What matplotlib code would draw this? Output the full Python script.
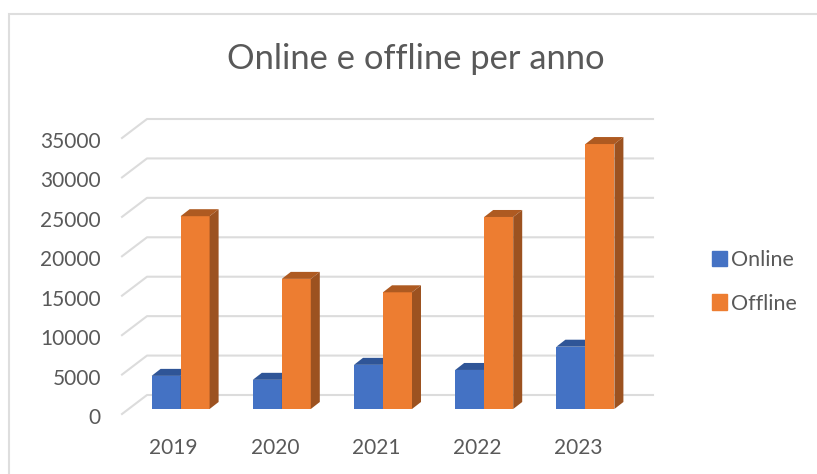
import matplotlib
matplotlib.use("Agg")
import matplotlib.pyplot as plt
from matplotlib.patches import Polygon, Patch, Rectangle
from matplotlib.transforms import ScaledTranslation

plt.rcParams['font.family'] = ['Lato', 'DejaVu Sans']

years = ['2019', '2020', '2021', '2022', '2023']
online = [4200, 3700, 5600, 4950, 7900]
offline = [24450, 16500, 14800, 24350, 33600]
y_ticks = [0, 5000, 10000, 15000, 20000, 25000, 30000, 35000]

W, H = 817, 474
GREY = '#595959'
GRID = '#dcdcdc'

fig = plt.figure(figsize=(W / 100, H / 100), dpi=100)

# outer chart frame
fig.add_artist(Rectangle((9 / W, -0.1), 1.1, 1.1 - 14.5 / H, transform=fig.transFigure,
                         fill=False, ec='#dedede', lw=1.5))

# axes is the front plane of the fake 3d box
left, right, top, bottom = 122, 628, 138, 414
ax = fig.add_axes([left / W, 1 - bottom / H, (right - left) / W, (bottom - top) / H])
ax.set_xlim(-0.5, 4.5)
ax.set_ylim(0, 35000)
ax.patch.set_visible(False)
for s in ax.spines.values():
    s.set_visible(False)

# size of one pixel in data units
px = 5 / (right - left)
py = 35000 / (bottom - top)

# back wall grid and the slanted part on the floor/side
for v in y_ticks:
    ax.plot([-0.5, -0.5 + 25 * px, 4.5 + 25 * px],
            [v, v + 19 * py, v + 19 * py],
            color=GRID, lw=1.5, clip_on=False, zorder=1)

w = 29 * px
sx, sy = 8 * px, 5 * py     # bars stand a little behind the front plane
dx, dy = 9 * px, 7 * py     # bar depth


def draw_bars(pos, vals, color, top_c, side_c, z):
    ax.bar(pos, vals, width=w, bottom=sy, color=color, clip_on=False, zorder=z)
    for x, v in zip(pos, vals):
        l, r, b, t = x - w / 2, x + w / 2, sy, sy + v
        ax.add_patch(Polygon([(l, t), (r, t), (r + dx, t + dy), (l + dx, t + dy)],
                             color=top_c, lw=0, clip_on=False, zorder=z))
        ax.add_patch(Polygon([(r, b), (r + dx, b + dy), (r + dx, t + dy), (r, t)],
                             color=side_c, lw=0, clip_on=False, zorder=z))


x = list(range(len(years)))
draw_bars([i + sx - w / 2 for i in x], online, '#4472c4', '#2f5597', '#2a4d8a', 3)
draw_bars([i + sx + w / 2 for i in x], offline, '#ed7d31', '#ae5a21', '#9c5220', 4)

ax.set_xticks(x, years)
ax.set_yticks(y_ticks, [str(v) for v in y_ticks])
ax.tick_params(length=0, labelsize=15, labelcolor=GREY)
ax.tick_params(axis='x', pad=17.5)
ax.tick_params(axis='y', pad=15.2)

# nudge labels, matplotlib centres them a bit higher than the original
nudge_y = ScaledTranslation(0, -2 / 100, fig.dpi_scale_trans)
nudge_x = ScaledTranslation(1 / 100, 0, fig.dpi_scale_trans)
for lab in ax.get_yticklabels():
    lab.set_transform(lab.get_transform() + nudge_y)
for lab in ax.get_xticklabels():
    lab.set_transform(lab.get_transform() + nudge_x)

fig.text(416 / W, 1 - 59 / H, 'Online e offline per anno', ha='center', va='center',
         fontsize=24.8, color=GREY)

handles = [Patch(color='#4472c4', label='Online'), Patch(color='#ed7d31', label='Offline')]
fig.legend(handles=handles, loc='center left', bbox_to_anchor=(692.5 / W, 1 - 282 / H),
           frameon=False, fontsize=15.5, labelcolor=GREY, handlelength=0.7, handleheight=0.7,
           handletextpad=0.2, labelspacing=1.07)

fig.savefig('out.png', dpi=100)
